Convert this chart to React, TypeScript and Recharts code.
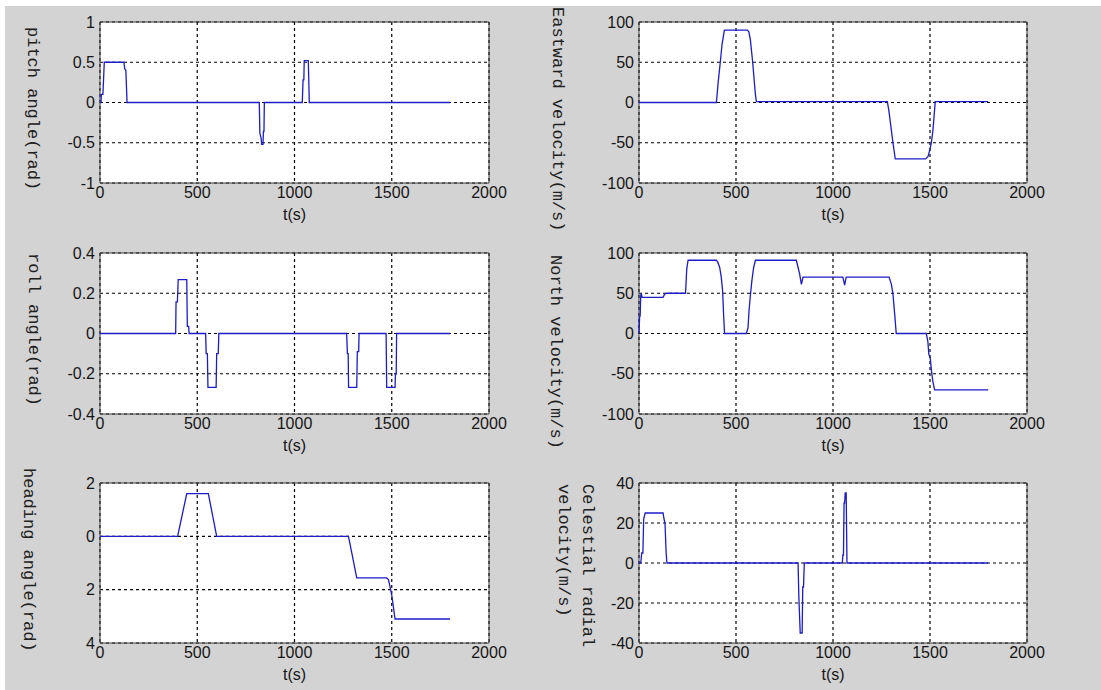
import { LineChart, Line, XAxis, YAxis, CartesianGrid, ReferenceArea } from 'recharts';

// time ticks shared by every panel
const xTicks = [0, 500, 1000, 1500, 2000];

// pitch angle (rad)
const pitchT = [0, 5, 7, 15, 22, 123, 127, 133, 139, 819, 822, 829, 831, 838, 840, 843, 845, 1040, 1044, 1048, 1050, 1071, 1076, 1800];
const pitchV = [0, 0, 0.1, 0.1, 0.5, 0.5, 0.42, 0.4, 0, 0, -0.38, -0.45, -0.52, -0.52, -0.36, -0.36, 0, 0, 0.28, 0.28, 0.52, 0.52, 0, 0];
const pitchTicks = [-1, -0.5, 0, 0.5, 1];

// eastward velocity (m/s)
const eastT = [0, 399, 402, 408, 419, 428, 440, 558, 566, 574, 586, 600, 605, 1280, 1288, 1309, 1321, 1478, 1490, 1500, 1507, 1515, 1527, 1800];
const eastV = [0, 0, 8, 25, 50, 72, 90, 90, 88, 78, 50, 10, 1, 1, -10, -50, -70, -70, -67, -58, -50, -35, 1, 1];
const eastTicks = [-100, -50, 0, 50, 100];

// roll angle (rad)
const rollT = [0, 389, 391, 398, 402, 446, 449, 456, 458, 543, 546, 552, 555, 597, 600, 608, 611, 1268, 1272, 1276, 1278, 1320, 1323, 1330, 1332, 1471, 1474, 1517, 1519, 1523, 1525, 1800];
const rollV = [0, 0, 0.157, 0.157, 0.268, 0.268, 0.035, 0.035, 0, 0, -0.1, -0.1, -0.268, -0.268, -0.1, -0.1, 0, 0, -0.1, -0.1, -0.268, -0.268, -0.09, -0.09, 0, 0, -0.268, -0.268, -0.2, -0.2, 0, 0];
const rollTicks = [-0.4, -0.2, 0, 0.2, 0.4];

// north velocity (m/s)
const northT = [0, 3, 6, 9, 12, 16, 124, 130, 140, 240, 246, 253, 399, 407, 416, 424, 431, 436, 441, 553, 562, 567, 574, 582, 591, 600, 811, 820, 828, 837, 842, 845, 1051, 1060, 1068, 1289, 1301, 1309, 1318, 1326, 1481, 1489, 1494, 1501, 1508, 1515, 1524, 1800];
const northV = [0, 20, 22, 48, 49, 45, 45, 48, 50, 50, 80, 91, 91, 88, 82, 70, 53, 24, 0, 0, 7, 28, 47, 66, 82, 91, 91, 82, 74, 61, 66, 70, 70, 60, 70, 70, 61, 49, 24, 0, 0, -10, -26, -30, -47, -60, -70, -70];
const northTicks = [-100, -50, 0, 50, 100];

// heading angle (rad)
const headT = [0, 399, 446, 557, 600, 1277, 1283, 1320, 1474, 1483, 1488, 1500, 1517, 1800];
const headV = [0, 0, 1.6, 1.6, 0, 0, -0.2, -1.56, -1.56, -1.62, -1.78, -2.2, -3.1, -3.1];
const headTicks = [-4, -2, 0, 2];

// celestial radial velocity (m/s)
const celT = [0, 9, 14, 20, 24, 32, 124, 129, 134, 140, 144, 820, 824, 831, 841, 844, 848, 852, 1048, 1051, 1054, 1057, 1060, 1063, 1068, 1072, 1800];
const celV = [0, 0, 5, 5, 22, 25, 25, 22, 20, 5, 0, 0, -17, -35, -35, -12, -12, 0, 0, 4, 4, 30, 30, 35, 35, 0, 0];
const celTicks = [-40, -20, 0, 20, 40];

const ROW_TOP = [22, 23, 23];
const ROW_AXIS = [47, 46, 47];
const SANS = '"Liberation Sans", Arial, sans-serif';
const MONO = '"Liberation Mono", "Courier New", monospace';

function Panel({ t, v, yTicks, col, row, fmt }: {
  t: number[]; v: number[]; yTicks: number[]; col: number; row: number; fmt?: (n: number) => string;
}) {
  const data = t.map((x, i) => ({ t: x, v: v[i] }));
  const yMin = yTicks[0];
  const yMax = yTicks[yTicks.length - 1];
  const tickStyle = { fill: '#161616', fontSize: 16, fontFamily: SANS };
  return (
    <div style={{ position: 'absolute', left: col * 550, top: row * 230 }}>
      <LineChart
        width={550}
        height={230}
        data={data}
        margin={{ top: ROW_TOP[row], right: col ? 73 : 61, left: 0, bottom: 0 }}
      >
        <CartesianGrid fill="#fff" stroke="#000" strokeWidth={1.2} strokeDasharray="3 3" />
        <XAxis
          type="number"
          dataKey="t"
          domain={[0, 2000]}
          ticks={xTicks}
          height={ROW_AXIS[row]}
          axisLine={false}
          tickLine={false}
          tickSize={3}
          tickMargin={1}
          tick={tickStyle}
          label={{ value: 't(s)', position: 'insideTop', offset: 26, fill: '#161616', fontSize: 16, fontFamily: SANS }}
        />
        <YAxis
          type="number"
          domain={[yMin, yMax]}
          ticks={yTicks}
          width={col ? 89 : 100}
          axisLine={false}
          tickLine={false}
          tickSize={4}
          tickMargin={1}
          tick={tickStyle}
          tickFormatter={fmt}
        />
        <ReferenceArea x1={0} x2={2000} y1={yMin} y2={yMax} fill="none" stroke="#3c3c3c" strokeWidth={1} />
        <Line
          dataKey="v"
          type="linear"
          stroke="#1c1cc8"
          strokeWidth={1.3}
          dot={false}
          isAnimationActive={false}
        />
      </LineChart>
    </div>
  );
}

function YLabel({ lines, left, top, height, align }: {
  lines: string[]; left: number; top: number; height?: number; align?: 'center' | 'start';
}) {
  return (
    <div
      style={{
        position: 'absolute',
        left,
        top,
        height,
        writingMode: 'vertical-rl',
        fontFamily: MONO,
        fontSize: 17,
        lineHeight: '24px',
        color: '#202020',
        textAlign: align ?? 'center',
        whiteSpace: 'pre',
      }}
    >
      {lines.map((s, i) => (
        <div key={i}>{s}</div>
      ))}
    </div>
  );
}

export default function App() {
  return (
    <div style={{ position: 'relative', width: 1101, height: 690, background: '#fff', overflow: 'hidden' }}>
      <style>{'body{margin:0}.recharts-surface{overflow:visible}'}</style>
      <div style={{ position: 'absolute', left: 5, top: 6, right: 0, bottom: 0, background: '#d3d3d3' }} />
      <Panel t={pitchT} v={pitchV} yTicks={pitchTicks} col={0} row={0} />
      <Panel t={eastT} v={eastV} yTicks={eastTicks} col={1} row={0} />
      <Panel t={rollT} v={rollV} yTicks={rollTicks} col={0} row={1} />
      <Panel t={northT} v={northV} yTicks={northTicks} col={1} row={1} />
      <Panel t={headT} v={headV} yTicks={headTicks} col={0} row={2} fmt={(n) => String(Math.abs(n))} />
      <Panel t={celT} v={celV} yTicks={celTicks} col={1} row={2} />
      <YLabel lines={['pitch angle(rad)']} left={20} top={27} height={160} />
      <YLabel lines={['Eastward velocity(m/s)']} left={545} top={3} height={232} />
      <YLabel lines={['roll angle(rad)']} left={21} top={248} height={164} />
      <YLabel lines={['North velocity(m/s)']} left={543} top={255} height={188} />
      <YLabel lines={['heading angle(rad)']} left={16} top={468} height={179} />
      <YLabel lines={['Celestial radial', 'velocity(m/s)']} left={551} top={484} align="start" />
    </div>
  );
}
